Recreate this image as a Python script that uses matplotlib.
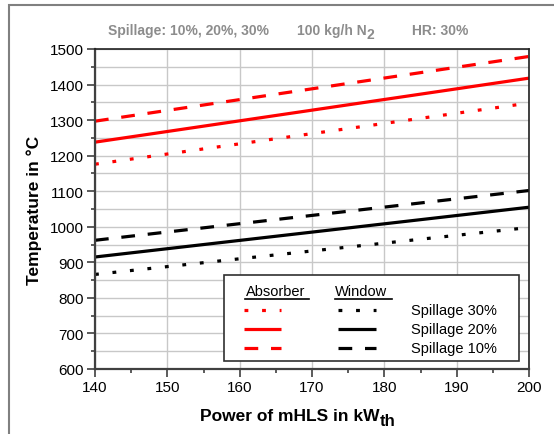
import matplotlib
matplotlib.use("Agg")
import matplotlib.pyplot as plt
from matplotlib.patches import Rectangle
from matplotlib.lines import Line2D

plt.rcParams['font.family'] = ['Liberation Sans', 'DejaVu Sans']

# ---- data ----
power = [140, 200]
absorber_10 = [1297, 1479]
absorber_20 = [1238, 1418]
absorber_30 = [1176, 1348]
window_10 = [962, 1102]
window_20 = [915, 1055]
window_30 = [866, 998]
spill_labels = ['Spillage 30%', 'Spillage 20%', 'Spillage 10%']
xticks = [140, 150, 160, 170, 180, 190, 200]
yticks = list(range(600, 1501, 100))

W, H = 554, 435
fig = plt.figure(figsize=(W / 100, H / 100), dpi=100)
ax = fig.add_axes([95 / W, 1 - 370 / H, (529 - 95) / W, (370 - 50) / H])

lw = 2.3
DASH = (4.3, 4.0)
DOT = (1.2, 4.3)
styles = {'10': DASH, '20': None, '30': DOT}

def draw(y, color, key):
    ln, = ax.plot(power, y, color=color, lw=lw, solid_capstyle='butt')
    if styles[key] is not None:
        ln.set_dashes(styles[key])
        ln.set_dash_capstyle('butt')
    return ln

draw(absorber_10, '#ff0000', '10')
draw(absorber_20, '#ff0000', '20')
draw(absorber_30, '#ff0000', '30')
draw(window_10, '#000000', '10')
draw(window_20, '#000000', '20')
draw(window_30, '#000000', '30')

ax.set_xlim(140, 200)
ax.set_ylim(600, 1500)
ax.set_xticks(xticks)
ax.set_yticks(yticks)
ax.set_xticks([145, 155, 165, 175, 185, 195], minor=True)
ax.set_yticks(list(range(650, 1500, 100)), minor=True)
ax.tick_params(axis='both', which='major', direction='out', length=6, width=1.2,
               color='#404040', labelsize=11, pad=2)
ax.tick_params(axis='both', which='minor', direction='out', length=3, width=1.2,
               color='#404040')
ax.grid(True, which='major', color='#c8c8c8', lw=1.0)
ax.grid(True, which='minor', axis='y', color='#c8c8c8', lw=1.0)
ax.set_axisbelow(True)
for s in ['left', 'bottom']:
    ax.spines[s].set_color('#404040')
    ax.spines[s].set_linewidth(1.6)
for s in ['top', 'right']:
    ax.spines[s].set_color('#202020')
    ax.spines[s].set_linewidth(1.2)

ax.set_ylabel('Temperature in °C', fontsize=12.5, fontweight='bold', labelpad=6)

# x label with large subscript
xl = fig.text(200 / W, 1 - 421 / H, 'Power of mHLS in kW', ha='left', va='baseline',
              fontsize=12.5, fontweight='bold')
ax.annotate('th', xy=(1, 0), xycoords=xl, xytext=(0, -3.5), textcoords='offset points',
            ha='left', va='bottom', fontsize=12, fontweight='bold', annotation_clip=False)

# header texts
gray = '#8c8c8c'
fig.text(188 / W, 1 - 31 / H, 'Spillage: 10%, 20%, 30%', ha='center', va='center', color=gray,
         fontsize=10, fontweight='bold')
hn = fig.text(297 / W, 1 - 31 / H, '100 kg/h N', ha='left', va='center', color=gray,
              fontsize=10, fontweight='bold')
ax.annotate('2', xy=(1, 0), xycoords=hn, xytext=(0, -3.0), textcoords='offset points',
            ha='left', va='bottom', color=gray, fontsize=10, fontweight='bold', annotation_clip=False)
fig.text(440 / W, 1 - 31 / H, 'HR: 30%', ha='center', va='center', color=gray,
         fontsize=10, fontweight='bold')

# legend (manual, axes fraction)
def ax_x(px):
    return (px - 95) / 434

def ax_y(py):
    return (370 - py) / 320

tr = ax.transAxes
ax.add_patch(Rectangle((ax_x(224), ax_y(362)), ax_x(519) - ax_x(224), ax_y(276) - ax_y(362),
                       transform=tr, facecolor='white', edgecolor='#303030', lw=1.2, zorder=5))
ax.text(ax_x(246), ax_y(292), 'Absorber', transform=tr, ha='left', va='center', fontsize=10.5, zorder=6)
ax.text(ax_x(335), ax_y(292), 'Window', transform=tr, ha='left', va='center', fontsize=10.5, zorder=6)
ax.add_line(Line2D([ax_x(245), ax_x(309)], [ax_y(299.5)] * 2, transform=tr, color='black', lw=1.2, zorder=6))
ax.add_line(Line2D([ax_x(335), ax_x(392)], [ax_y(299.5)] * 2, transform=tr, color='black', lw=1.2, zorder=6))
rows = [311, 330, 349]
keys = ['30', '20', '10']
for ry, key, lab in zip(rows, keys, spill_labels):
    for x0, x1, c in [(244, 281, '#ff0000'), (338, 376, '#000000')]:
        l = Line2D([ax_x(x0), ax_x(x1)], [ax_y(ry)] * 2, transform=tr, color=c, lw=lw,
                   solid_capstyle='butt', zorder=6)
        if styles[key] is not None:
            l.set_dashes(styles[key])
            l.set_dash_capstyle('butt')
        ax.add_line(l)
    ax.text(ax_x(411), ax_y(ry), lab, transform=tr, ha='left', va='center', fontsize=10.5, zorder=6)

# figure frame
fig.add_artist(Rectangle((8.5 / W, -0.1), 1.2, 1.1 - 6 / H, transform=fig.transFigure,
                         fill=False, edgecolor='#808080', lw=1.5, clip_on=False))

fig.savefig('out.png', dpi=100)
